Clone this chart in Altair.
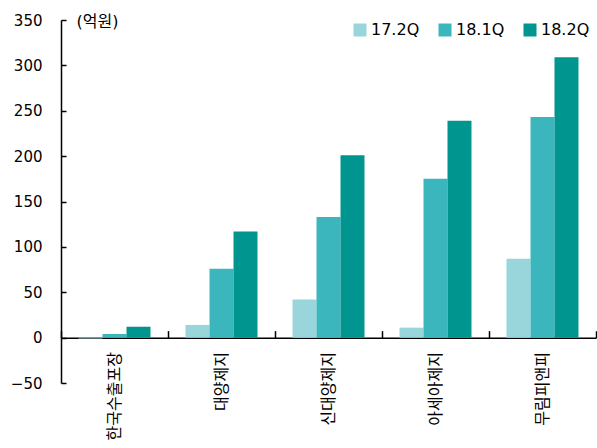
import altair as alt
import pandas as pd

companies = ["한국수출포장", "대양제지", "신대양제지", "아세아제지", "무림피앤피"]
series = ["17.2Q", "18.1Q", "18.2Q"]
v_172 = [-1, 14, 42, 11, 87]
v_181 = [4, 76, 133, 175, 243]
v_182 = [12, 117, 201, 239, 309]
colors = ["#98d6db", "#3ab6bc", "#00968f"]
y_ticks = [-50, 0, 50, 100, 150, 200, 250, 300, 350]

rows = []
for s, vals in zip(series, [v_172, v_181, v_182]):
    for c, v in zip(companies, vals):
        rows.append({"company": c, "series": s, "value": v})
df = pd.DataFrame(rows)

FONT = "DejaVu Sans, Noto Sans CJK KR"
KFONT = "Noto Sans CJK KR"
W, H = 535, 363
zero_offset = -H * 50 / 400

chart = alt.Chart(df).mark_bar().encode(
    x=alt.X(
        "company:N",
        sort=companies,
        scale=alt.Scale(paddingInner=0, paddingOuter=0),
        axis=alt.Axis(
            title=None,
            labelAngle=-90,
            labelFont=KFONT,
            labelFontSize=16,
            labelColor="#000000",
            labelPadding=21,
            ticks=True,
            tickBand="extent",
            tickSize=alt.ExprRef("-7"),
            tickColor="#000000",
            tickWidth=1.5,
            domainColor="#000000",
            domainWidth=1.5,
            offset=zero_offset,
        ),
    ),
    xOffset=alt.XOffset(
        "series:N",
        sort=series,
        scale=alt.Scale(paddingInner=0, paddingOuter=0.73),
    ),
    y=alt.Y(
        "value:Q",
        scale=alt.Scale(domain=[-50, 350], nice=False, zero=False),
        axis=alt.Axis(
            values=y_ticks,
            grid=False,
            title="(억원)",
            titleFont=FONT,
            titleAngle=0,
            titleAlign="left",
            titleBaseline="middle",
            titleX=15,
            titleY=1,
            titleFontSize=16,
            titleFontWeight="normal",
            titleColor="#000000",
            labelFont=FONT,
            labelFontSize=15,
            labelColor="#000000",
            labelPadding=24,
            ticks=True,
            tickSize=alt.ExprRef("-5"),
            tickColor="#000000",
            tickWidth=1.5,
            domainColor="#000000",
            domainWidth=1.5,
        ),
    ),
    color=alt.Color(
        "series:N",
        sort=series,
        scale=alt.Scale(domain=series, range=colors),
        legend=alt.Legend(
            title=None,
            orient="none",
            legendX=291,
            legendY=2,
            direction="horizontal",
            symbolType="square",
            symbolSize=169,
            symbolStrokeWidth=0,
            labelFont=FONT,
            labelFontSize=16,
            labelColor="#000000",
            labelOffset=3,
            columnPadding=17,
            padding=0,
        ),
    ),
).properties(
    width=W,
    height=H,
    autosize=alt.AutoSizeParams(type="none"),
    padding={"left": 61, "top": 20, "right": 1, "bottom": 65},
).configure(
    font=FONT,
).configure_view(
    stroke=None,
)

chart.save("out.html", embed_options={"renderer": "svg", "actions": False})
